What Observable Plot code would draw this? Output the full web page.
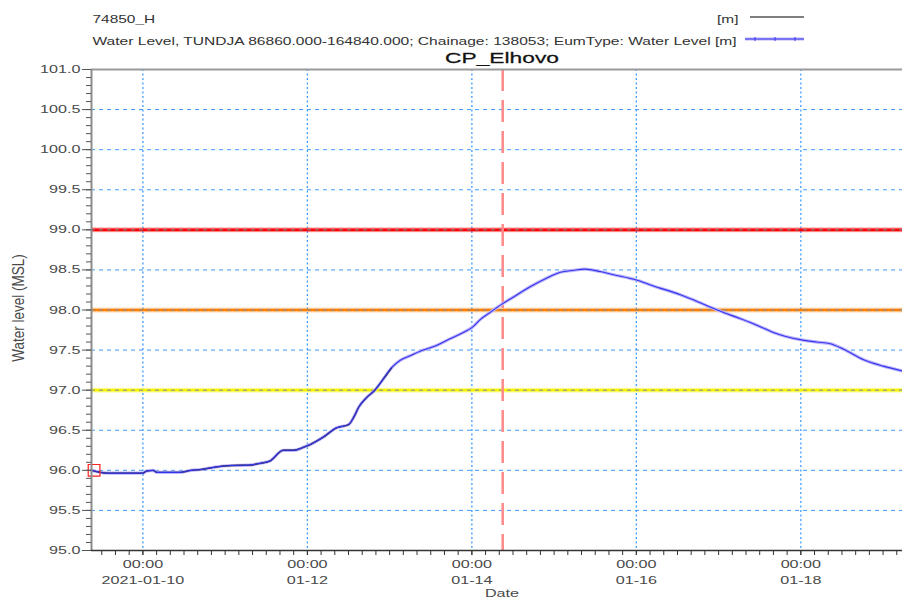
<!DOCTYPE html>
<html><head><meta charset="utf-8">
<script src="https://cdn.jsdelivr.net/npm/d3@7"></script>
<script src="https://cdn.jsdelivr.net/npm/@observablehq/plot@0.6"></script>
<style>
body{margin:0;background:#fff;}
#chart svg{display:block;}
</style></head><body><div id="chart"></div>
<script>
// ---- data ----
const simTimes = ["2021-01-09T09:00","2021-01-09T11:00","2021-01-09T14:00","2021-01-09T18:00","2021-01-10T00:00","2021-01-10T01:00","2021-01-10T03:00","2021-01-10T04:00","2021-01-10T11:00","2021-01-10T14:00","2021-01-10T17:00","2021-01-10T21:00","2021-01-11T02:00","2021-01-11T07:00","2021-01-11T10:30","2021-01-11T13:00","2021-01-11T17:00","2021-01-11T20:00","2021-01-11T23:00","2021-01-12T01:00","2021-01-12T04:30","2021-01-12T08:30","2021-01-12T12:00","2021-01-12T13:30","2021-01-12T15:00","2021-01-12T17:20","2021-01-12T19:40","2021-01-12T22:10","2021-01-13T00:35","2021-01-13T03:00","2021-01-13T06:00","2021-01-13T09:50","2021-01-13T13:50","2021-01-13T17:35","2021-01-13T21:30","2021-01-14T00:00","2021-01-14T02:25","2021-01-14T05:20","2021-01-14T08:40","2021-01-14T12:05","2021-01-14T17:00","2021-01-14T21:55","2021-01-15T01:50","2021-01-15T05:35","2021-01-15T09:00","2021-01-15T13:25","2021-01-15T17:20","2021-01-15T23:35","2021-01-16T05:00","2021-01-16T12:50","2021-01-16T18:05","2021-01-16T21:50","2021-01-17T01:25","2021-01-17T06:25","2021-01-17T11:10","2021-01-17T16:00","2021-01-17T23:50","2021-01-18T04:40","2021-01-18T08:35","2021-01-18T12:30","2021-01-18T18:20","2021-01-19T00:05","2021-01-19T05:40"];
const simLevels = [96.00,95.98,95.965,95.965,95.965,95.99,96.00,95.975,95.975,96.00,96.01,96.04,96.06,96.065,96.09,96.115,96.25,96.25,96.29,96.325,96.41,96.53,96.57,96.66,96.79,96.91,97.00,97.14,97.28,97.37,97.43,97.50,97.56,97.64,97.72,97.78,97.88,97.97,98.07,98.16,98.29,98.40,98.47,98.495,98.51,98.48,98.44,98.38,98.30,98.19,98.10,98.03,97.97,97.89,97.81,97.72,97.63,97.60,97.58,97.51,97.38,97.30,97.24];

const obsTimes = ["2021-01-09T09:00","2021-01-09T11:00","2021-01-09T14:00","2021-01-09T18:00","2021-01-10T00:00","2021-01-10T01:00","2021-01-10T03:00","2021-01-10T04:00","2021-01-10T11:00","2021-01-10T14:00","2021-01-10T17:00","2021-01-10T21:00","2021-01-11T02:00","2021-01-11T07:00","2021-01-11T10:30","2021-01-11T13:00","2021-01-11T17:00","2021-01-11T20:00","2021-01-11T23:00","2021-01-12T01:00","2021-01-12T04:30","2021-01-12T08:30","2021-01-12T12:00","2021-01-12T13:30","2021-01-12T15:00","2021-01-12T17:20","2021-01-12T19:40","2021-01-12T22:10","2021-01-13T00:35"];
const obsLevels = [96.00,95.98,95.965,95.965,95.965,95.99,96.00,95.975,95.975,96.00,96.01,96.04,96.06,96.065,96.09,96.115,96.25,96.25,96.29,96.325,96.41,96.53,96.57,96.66,96.79,96.91,97.00,97.14,97.28];

const thresholdLevels = [99.0, 98.0, 97.0];
const thresholdColors = ["#ff0000", "#ff8000", "#f4f400"];
const forecastTime = "2021-01-14T09:00";
const startMarker = {t: "2021-01-09T09:45", v: 96.0};

const majorTickDates = ["2021-01-10T00:00","2021-01-12T00:00","2021-01-14T00:00","2021-01-16T00:00","2021-01-18T00:00"];
const majorTickLabels = ["00:00\n2021-01-10","00:00\n01-12","00:00\n01-14","00:00\n01-16","00:00\n01-18"];
const yTickValues = [95.0,95.5,96.0,96.5,97.0,97.5,98.0,98.5,99.0,99.5,100.0,100.5,101.0];

const titleText = "CP_Elhovo";
const legendNames = ["74850_H", "Water Level, TUNDJA 86860.000-164840.000; Chainage: 138053; EumType: Water Level [m]"];
const legendUnits = ["[m]", ""];
const yLabel = "Water level (MSL)";
const xLabel = "Date";

// ---- build ----
const parse = s => new Date(s + ":00Z");
const sim = simTimes.map((t, i) => ({t: parse(t), v: simLevels[i]}));
const obs = obsTimes.map((t, i) => ({t: parse(t), v: obsLevels[i]}));
const thresholds = thresholdLevels.map((v, i) => ({v, c: thresholdColors[i]}));
const majors = majorTickDates.map(parse);
const labelOf = new Map(majors.map((d, i) => [+d, majorTickLabels[i]]));
const minorX = d3.utcHour.every(4).range(parse("2021-01-09T12:00"), parse("2021-01-19T08:00"));
const minorY = d3.range(950, 1011).map(d => d / 10);
const xDomain = [parse("2021-01-09T09:00"), parse("2021-01-19T05:40")];
const gridBlue = "#3f9cff";
const font = "'Liberation Sans', Arial, sans-serif";

const chart = Plot.plot({
  width: 902, height: 600,
  marginLeft: 91, marginRight: 0, marginTop: 69, marginBottom: 50,
  style: {fontFamily: font, fontSize: "11px", color: "#4a4a4a", background: "#fff", overflow: "visible"},
  x: {type: "utc", domain: xDomain},
  y: {domain: [95, 101]},
  color: {type: "identity"},
  marks: [
    // grid
    Plot.ruleY(yTickValues.filter(v => v > 95 && v < 101), {stroke: gridBlue, strokeDasharray: "4,4", strokeWidth: 1}),
    Plot.ruleX(majors, {stroke: gridBlue, strokeDasharray: "2,2.5", strokeWidth: 1.3}),
    // thresholds
    Plot.ruleY(thresholds, {y: "v", stroke: "c", strokeWidth: 5, strokeOpacity: 0.3}),
    Plot.ruleY(thresholds, {y: "v", stroke: "c", strokeWidth: 2.6}),
    Plot.ruleY(thresholdLevels, {stroke: "#7f8a99", strokeDasharray: "4,4", strokeWidth: 1}),
    // forecast time
    Plot.ruleX([parse(forecastTime)], {stroke: "#ff8a8a", strokeWidth: 2.5, strokeDasharray: "22,9"}),
    // series
    Plot.line(sim, {x: "t", y: "v", stroke: "#bcb4f8", strokeWidth: 3.2, curve: "monotone-x"}),
    Plot.line(obs, {x: "t", y: "v", stroke: "#222", strokeWidth: 1.4, curve: "monotone-x"}),
    Plot.line(sim, {x: "t", y: "v", stroke: "#3535f0", strokeWidth: 1.1, curve: "monotone-x"}),
    Plot.dot([startMarker], {x: d => parse(d.t), y: "v", symbol: "square", r: 6.6, stroke: "#ff2020", strokeWidth: 1.2, fill: "none"}),
    // frame lines
    Plot.ruleY([101], {stroke: "#9a9a9a", strokeWidth: 2}),
    Plot.ruleX([xDomain[0]], {stroke: "#8c8c8c", strokeWidth: 2}),
    Plot.ruleY([95], {stroke: "#333", strokeWidth: 1.4}),
    // axes
    Plot.axisY(minorY, {tickSize: 5, text: null, label: null, stroke: "#555"}),
    Plot.axisY(yTickValues, {tickSize: 9, tickPadding: 2, tickFormat: d => d.toFixed(1), label: null, fontSize: 11, stroke: "#555"}),
    Plot.axisX(minorX, {tickSize: 5, text: null, label: null, stroke: "#333"}),
    Plot.axisX(majors, {tickSize: 5, tickPadding: 1, tickFormat: d => labelOf.get(+d), label: null, fontSize: 11, lineHeight: 1.45, stroke: "#333"}),
    // axis titles
    Plot.text([yLabel], {frameAnchor: "left", dx: -73, dy: -2, rotate: -90, textAnchor: "middle", text: d => d, fontSize: 13.5, fill: "#4a4a4a"}),
    Plot.text([xLabel], {frameAnchor: "bottom", dx: 5, dy: 46, text: d => d, fontSize: 11, fill: "#4a4a4a"}),
    // title & legend
    Plot.text([titleText], {frameAnchor: "top", dx: 5, dy: -18, text: d => d, fontSize: 15.5, fill: "#111", stroke: "#111", strokeWidth: 0.25}),
    Plot.text([legendNames[0]], {frameAnchor: "top-left", dx: 1, dy: -54, textAnchor: "start", text: d => d, fontSize: 10.5, fill: "#333"}),
    Plot.text([legendNames[1]], {frameAnchor: "top-left", dx: 1, dy: -32, textAnchor: "start", text: d => d, fontSize: 10.6, fill: "#333"}),
    Plot.text([legendUnits[0]], {frameAnchor: "top-left", dx: 647, dy: -54, textAnchor: "end", text: d => d, fontSize: 10.5, fill: "#333"})
  ]
});

// horizontal stretch of all text (reference glyphs are widened)
const SX = 1.47;
d3.select(chart).selectAll("text").each(function() {
  const tr = this.getAttribute("transform");
  if (tr && /rotate\(-90\)/.test(tr)) this.setAttribute("transform", tr + ` scale(1,1.2)`);
  else if (tr) this.setAttribute("transform", tr + ` scale(${SX},1)`);
  else {
    const x = +this.getAttribute("x") || 0;
    this.setAttribute("transform", `translate(${x},0) scale(${SX},1) translate(${-x},0)`);
  }
});

// legend swatches
const svg = d3.select(chart);
const lg = svg.append("g");
lg.append("line").attr("x1", 750).attr("x2", 804).attr("y1", 17).attr("y2", 17).attr("stroke", "#555").attr("stroke-width", 1.5);
lg.append("line").attr("x1", 745).attr("x2", 804).attr("y1", 39).attr("y2", 39).attr("stroke", "#bcb4f8").attr("stroke-width", 3);
lg.append("line").attr("x1", 745).attr("x2", 804).attr("y1", 39).attr("y2", 39).attr("stroke", "#3535f0").attr("stroke-width", 1);
[755, 775, 795].forEach(x => lg.append("line").attr("x1", x).attr("x2", x).attr("y1", 37).attr("y2", 41).attr("stroke", "#3535f0").attr("stroke-width", 1));

document.getElementById("chart").appendChild(chart);
</script></body></html>
